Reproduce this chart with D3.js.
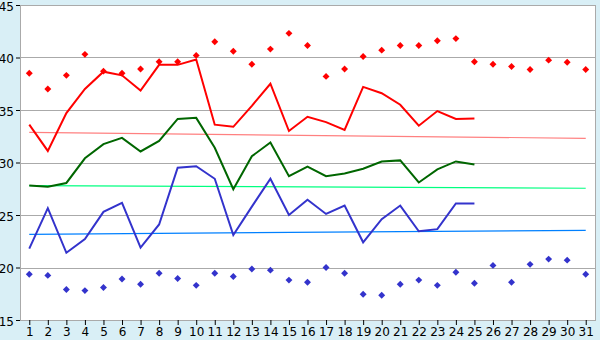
<!DOCTYPE html>
<html>
<head>
	<meta charset="utf-8">
	<script src="https://d3js.org/d3.v7.min.js"></script>
	<style>
		body { margin: 0; background: #d9eff6; }
		svg { display: block; }
		.tick text { font-family: "DejaVu Sans", sans-serif; font-size: 12px; fill: #000; }
	</style>
</head>
<body>
	<div id="chartDiv"></div>
	<script>
		const days = [1,2,3,4,5,6,7,8,9,10,11,12,13,14,15,16,17,18,19,20,21,22,23,24,25,26,27,28,29,30,31];
		const yTicks = [15, 20, 25, 30, 35, 40, 45];

		// lines (days 1-25)
		const redLine = [33.6,31.1,34.7,37.0,38.65,38.3,36.85,39.3,39.3,39.8,33.6,33.4,35.4,37.5,33.0,34.35,33.85,33.1,37.2,36.6,35.5,33.5,34.9,34.15,34.2];
		const greenLine = [27.8,27.7,28.05,30.4,31.75,32.35,31.05,32.05,34.15,34.25,31.4,27.45,30.6,31.9,28.7,29.6,28.7,28.95,29.4,30.1,30.2,28.1,29.35,30.1,29.8];
		const blueLine = [21.8,25.65,21.4,22.7,25.3,26.15,21.9,24.1,29.5,29.65,28.45,23.1,25.8,28.45,25.0,26.45,25.1,25.9,22.4,24.6,25.9,23.45,23.65,26.1,26.1];

		// diamonds (days 1-31)
		const redDots = [38.5,37.0,38.3,40.3,38.7,38.5,38.9,39.6,39.6,40.2,41.5,40.6,39.35,40.8,42.3,41.15,38.2,38.9,40.1,40.7,41.15,41.15,41.6,41.8,39.6,39.35,39.15,38.85,39.75,39.55,38.85];
		const blueDots = [19.35,19.25,17.9,17.8,18.1,18.9,18.4,19.45,18.95,18.3,19.45,19.15,19.85,19.75,18.8,18.6,20.0,19.45,17.45,17.35,18.4,18.8,18.3,19.55,18.5,20.2,18.6,20.3,20.8,20.7,19.35];

		// trend lines, value at day 1 and day 31
		const redTrend = [32.87, 32.3];
		const greenTrend = [27.8, 27.55];
		const blueTrend = [23.16, 23.54];

		const width = 600, height = 340;
		const margin = { left: 20, right: 5, top: 5, bottom: 20 };

		const svg = d3.select('#chartDiv').append('svg')
			.attr('width', width)
			.attr('height', height);

		const xScale = d3.scalePoint()
			.domain(days)
			.range([margin.left, width - margin.right])
			.padding(0.5);

		const yScale = d3.scaleLinear()
			.domain([15, 45])
			.range([height - margin.bottom, margin.top]);

		//plot background
		svg.append('rect')
			.attr('x', margin.left)
			.attr('y', margin.top)
			.attr('width', width - margin.left - margin.right)
			.attr('height', height - margin.top - margin.bottom)
			.attr('fill', '#fff');

		//grid lines
		svg.append('g').selectAll('line')
			.data(yTicks)
			.join('line')
			.attr('x1', margin.left)
			.attr('x2', width - margin.right)
			.attr('y1', d => Math.round(yScale(d)) + 0.5)
			.attr('y2', d => Math.round(yScale(d)) + 0.5)
			.attr('stroke', '#aaa');

		//plot border left/right
		svg.append('line')
			.attr('x1', margin.left + 0.5).attr('x2', margin.left + 0.5)
			.attr('y1', margin.top).attr('y2', height - margin.bottom)
			.attr('stroke', '#aaa');
		svg.append('line')
			.attr('x1', width - margin.right + 0.5).attr('x2', width - margin.right + 0.5)
			.attr('y1', margin.top).attr('y2', height - margin.bottom + 1)
			.attr('stroke', '#aaa');

		//axes
		const yAxis = d3.axisLeft(yScale)
			.tickValues(yTicks)
			.tickSize(4)
			.tickPadding(2);
		const yAxisG = svg.append('g')
			.attr('transform', `translate(${margin.left},0)`)
			.call(yAxis);
		yAxisG.select('.domain').remove();
		yAxisG.selectAll('.tick line').attr('stroke', '#000');
		yAxisG.selectAll('.tick text').attr('dy', '0.42em');

		const xAxis = d3.axisBottom(xScale)
			.tickSize(5)
			.tickPadding(2);
		const xAxisG = svg.append('g')
			.attr('transform', `translate(0,${height - margin.bottom})`)
			.call(xAxis);
		xAxisG.select('.domain').remove();
		xAxisG.selectAll('.tick line').attr('stroke', '#000');

		//trend lines
		const trends = [
			{ vals: redTrend, color: '#ff8080' },
			{ vals: greenTrend, color: '#00ff80' },
			{ vals: blueTrend, color: '#0080ff' }
		];
		const trendLine = d3.line()
			.x(d => xScale(d[0]))
			.y(d => yScale(d[1]));
		svg.append('g').selectAll('path')
			.data(trends)
			.join('path')
			.attr('d', d => trendLine([[days[0], d.vals[0]], [days[days.length - 1], d.vals[1]]]))
			.attr('fill', 'none')
			.attr('stroke', d => d.color)
			.attr('stroke-width', 1.2);

		//main lines
		const series = [
			{ vals: redLine, color: '#ff0000' },
			{ vals: greenLine, color: '#006600' },
			{ vals: blueLine, color: '#3333cc' }
		];
		const line = d3.line()
			.x((d, i) => xScale(days[i]))
			.y(d => yScale(d));
		svg.append('g').selectAll('path')
			.data(series)
			.join('path')
			.attr('d', d => line(d.vals))
			.attr('fill', 'none')
			.attr('stroke', d => d.color)
			.attr('stroke-width', 2)
			.attr('stroke-linejoin', 'miter');

		//diamond markers
		const diamond = d3.symbol().type(d3.symbolSquare).size(24);
		const dotSets = [
			{ vals: redDots, color: '#ff0000' },
			{ vals: blueDots, color: '#3333cc' }
		];
		dotSets.forEach(set => {
			svg.append('g').selectAll('path')
				.data(set.vals)
				.join('path')
				.attr('d', diamond)
				.attr('transform', (d, i) => `translate(${xScale(days[i])},${yScale(d)}) rotate(45)`)
				.attr('fill', set.color);
		});
	</script>
</body>
</html>
